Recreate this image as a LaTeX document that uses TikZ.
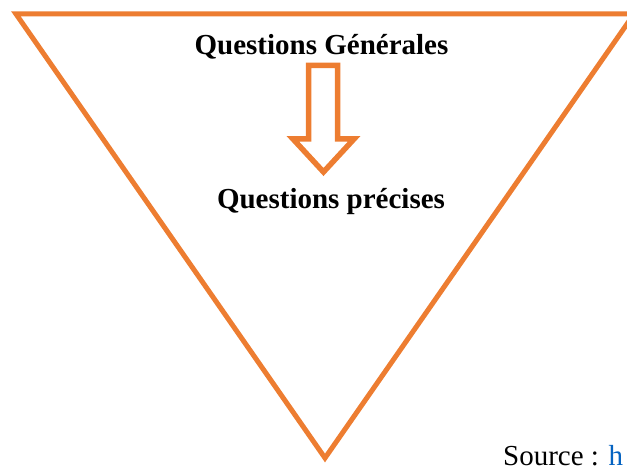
\documentclass[tikz,border=0pt]{standalone}
\usepackage{fontspec}
\setmainfont{Liberation Serif}
\usetikzlibrary{positioning}

\definecolor{orangeEntonnoir}{HTML}{ED7D31}
\definecolor{bleuLien}{HTML}{0563C1}

\begin{document}
\begin{tikzpicture}[
    x=1pt, y=-1pt,
    contour/.style={draw=orangeEntonnoir, line width=5pt, line join=miter},
    titre/.style={font=\fontsize{29}{34}\selectfont\bfseries, inner sep=0pt, anchor=base},
    source/.style={font=\fontsize{29}{34}\selectfont, inner sep=0pt, anchor=base west}
  ]
  \useasboundingbox (0,0) rectangle (627,468);

  % entonnoir
  \coordinate (hautG) at (16,14);
  \coordinate (hautD) at (634,14);
  \coordinate (pointe) at (325,458);
  \draw[contour] (hautG) -- (hautD) -- (pointe) -- cycle;

  \node[titre] (generales) at (321.5,55) {Questions Générales};
  \node[titre] (precises)  at (331,208)  {Questions précises};

  % fleche creuse
  \draw[contour, line width=5.5pt]
    (308.5,65.5) -- (337.5,65.5) -- (337.5,139) -- (354,139)
    -- (323.5,172) -- (293,139) -- (308.5,139) -- cycle;

  \node[source] (src) at (503,465) {Source : \textcolor{bleuLien}{h}};

\end{tikzpicture}
\end{document}
